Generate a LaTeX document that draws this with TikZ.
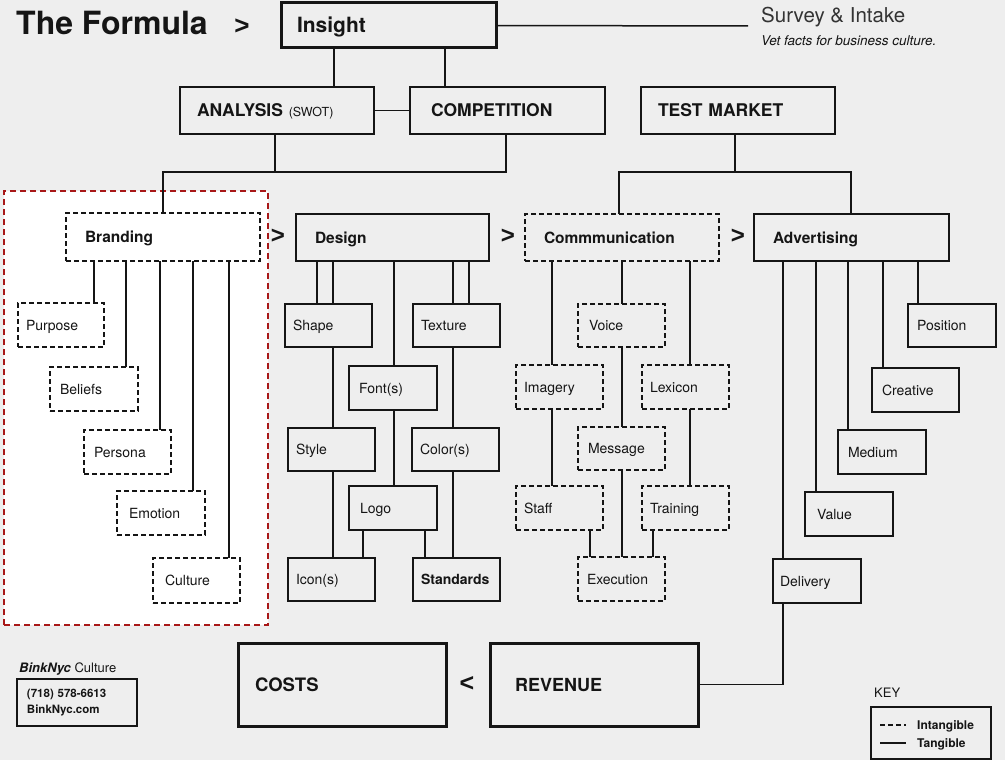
\documentclass[tikz,border=0pt]{standalone}
\usepackage{fontspec}
\setmainfont{TeX Gyre Heros}
\newfontfamily\chevfont{Liberation Sans}
\definecolor{bgc}{HTML}{EEEEEE}
\definecolor{ink}{HTML}{151515}
\definecolor{zone}{HTML}{A81818}
\definecolor{grayink}{HTML}{333333}
\newcommand\mkbox[8]{%
  \pgfmathsetmacro\bxw{#5-#3}%
  \pgfmathsetmacro\bxh{#6-#4}%
  \pgfmathsetmacro\bxt{#5-#3-2*#7}%
  \node[#1, anchor=north west, outer sep=0pt, minimum width=\bxw pt, minimum height=\bxh pt,
        text width=\bxt pt, inner xsep=#7pt, inner ysep=0pt, align=left] (#2) at (#3,#4) {#8};}
\tikzset{
  solidbox/.style={draw=ink, line width=1.4pt, text=ink, font=\fontsize{14}{16}\selectfont, text height=10pt, text depth=0pt},
  dashbox/.style={solidbox, dash pattern=on 5pt off 3pt},
  thickbox/.style={draw=ink, line width=3pt, text=ink},
  headfont/.style={font=\bfseries\fontsize{17.5}{20}\selectfont, text height=12.6pt, text depth=0pt},
  midfont/.style={font=\bfseries\fontsize{15.5}{18}\selectfont, text height=11.2pt, text depth=0pt},
  conn/.style={draw=ink, line width=1.5pt},
  arrowtxt/.style={font=\chevfont\bfseries\fontsize{24}{26}\selectfont, text=ink, inner sep=0pt},
}
\begin{document}
\begin{tikzpicture}[x=1pt, y=-1pt]
\useasboundingbox (0,0) rectangle (1005,760);
\fill[bgc] (0,0) rectangle (1005,760);

% title row
\node[anchor=base west, inner sep=0pt, text=ink, font=\bfseries\fontsize{32}{34}\selectfont] (title) at (16,35) {The Formula};
\node[arrowtxt, font=\chevfont\bfseries\fontsize{26}{28}\selectfont] (gt0) at (242,27) {>};
\mkbox{thickbox, font=\bfseries\fontsize{21}{24}\selectfont, text height=15pt, text depth=0pt}{insight}{281}{3}{496}{48}{16}{Insight}
\coordinate (surveyend) at (748,26);
\draw[conn] (insight.east) -- (surveyend);
\node[anchor=base west, inner sep=0pt, text=grayink, font=\fontsize{20.5}{23}\selectfont] (survey) at (761,23) {Survey \& Intake};
\node[anchor=base west, inner sep=0pt, text=ink, font=\itshape\fontsize{13.5}{15}\selectfont] (vet) at (761,46) {Vet facts for business culture.};

% second row
\mkbox{solidbox, headfont}{analysis}{180}{87}{374}{134}{17}{ANALYSIS {\fontsize{12.5}{14}\selectfont\mdseries (SWOT)}}
\mkbox{solidbox, headfont}{competition}{410}{87}{605}{134}{21}{COMPETITION}
\mkbox{solidbox, headfont}{testmarket}{641}{87}{835}{134}{17}{TEST MARKET}

\draw[conn] (334,0 |- insight.south) -- (334,0 |- analysis.north);
\draw[conn] (445,0 |- insight.south) -- (445,0 |- competition.north);
\draw[conn] (analysis.east) -- (competition.west);

% branding zone
\node[draw=zone, fill=white, line width=1.5pt, dash pattern=on 6pt off 4pt, anchor=north west,
      minimum width=264pt, minimum height=434pt, inner sep=0pt, outer sep=0pt] (brandzone) at (4,191) {};

% column heads
\mkbox{dashbox, midfont, fill=white}{branding}{66}{213}{260}{261}{19}{Branding}
\mkbox{solidbox, midfont}{design}{296}{214}{489}{261}{19}{Design}
\mkbox{dashbox, midfont}{comm}{525}{214}{719}{261}{19}{Commmunication}
\mkbox{solidbox, midfont}{adv}{754}{214}{949}{261}{19}{Advertising}
\node[arrowtxt] (gt1) at (278,236) {>};
\node[arrowtxt] (gt2) at (508,236) {>};
\node[arrowtxt] (gt3) at (738,236) {>};

\coordinate (jleft) at (163,172);
\coordinate (jright) at (851,172);
\draw[conn] (275,0 |- analysis.south) |- (jleft) -- (163,0 |- branding.north);
\draw[conn] (506,0 |- competition.south) |- (275,172);
\draw[conn] (735,0 |- testmarket.south) -- (735,172);
\draw[conn] (619,0 |- comm.north) |- (jright) -- (851,0 |- adv.north);

% branding children
\mkbox{dashbox}{purpose}{18}{303}{104}{347}{8}{Purpose}
\mkbox{dashbox}{beliefs}{50}{367}{138}{411}{10}{Beliefs}
\mkbox{dashbox}{persona}{84}{430}{171}{474}{10}{Persona}
\mkbox{dashbox}{emotion}{117}{491}{205}{535}{12}{Emotion}
\mkbox{dashbox}{culture}{153}{558}{240}{603}{12}{Culture}
\draw[conn] (94,0 |- branding.south) -- (94,0 |- purpose.north);
\draw[conn] (126,0 |- branding.south) -- (126,0 |- beliefs.north);
\draw[conn] (160,0 |- branding.south) -- (160,0 |- persona.north);
\draw[conn] (193,0 |- branding.south) -- (193,0 |- emotion.north);
\draw[conn] (229,0 |- branding.south) -- (229,0 |- culture.north);

% design children
\mkbox{solidbox}{shape}{285}{304}{372}{347}{8}{Shape}
\mkbox{solidbox}{texture}{413}{304}{500}{347}{8}{Texture}
\mkbox{solidbox}{fonts}{349}{366}{437}{410}{10}{Font(s)}
\mkbox{solidbox}{style}{288}{428}{375}{471}{8}{Style}
\mkbox{solidbox}{colors}{412}{428}{499}{471}{8}{Color(s)}
\mkbox{solidbox}{logo}{349}{486}{437}{530}{11}{Logo}
\mkbox{solidbox}{icons}{288}{558}{375}{601}{8}{Icon(s)}
\mkbox{solidbox, font=\bfseries\fontsize{14}{16}\selectfont}{standards}{413}{558}{500}{601}{8}{Standards}
\draw[conn] (317,0 |- design.south) -- (317,0 |- shape.north);
\draw[conn] (333,0 |- design.south) -- (333,0 |- shape.north);
\draw[conn] (453,0 |- design.south) -- (453,0 |- texture.north);
\draw[conn] (469,0 |- design.south) -- (469,0 |- texture.north);
\draw[conn] (394,0 |- design.south) -- (394,0 |- fonts.north);
\draw[conn] (333,0 |- shape.south) -- (333,0 |- style.north);
\draw[conn] (333,0 |- style.south) -- (333,0 |- icons.north);
\draw[conn] (394,0 |- fonts.south) -- (394,0 |- logo.north);
\draw[conn] (453,0 |- texture.south) -- (453,0 |- colors.north);
\draw[conn] (453,0 |- colors.south) -- (453,0 |- standards.north);
\draw[conn] (363,0 |- logo.south) -- (363,0 |- icons.north);
\draw[conn] (425,0 |- logo.south) -- (425,0 |- standards.north);

% communication children
\mkbox{dashbox}{voice}{578}{304}{665}{347}{11}{Voice}
\mkbox{dashbox}{imagery}{516}{365}{603}{409}{8}{Imagery}
\mkbox{dashbox}{lexicon}{642}{365}{729}{409}{8}{Lexicon}
\mkbox{dashbox}{message}{578}{427}{665}{470}{10}{Message}
\mkbox{dashbox}{staff}{516}{486}{603}{530}{8}{Staff}
\mkbox{dashbox}{training}{642}{486}{729}{530}{8}{Training}
\mkbox{dashbox}{execution}{578}{557}{665}{601}{9}{Execution}
\draw[conn] (552,0 |- comm.south) -- (552,0 |- imagery.north);
\draw[conn] (622,0 |- comm.south) -- (622,0 |- voice.north);
\draw[conn] (690,0 |- comm.south) -- (690,0 |- lexicon.north);
\draw[conn] (622,0 |- voice.south) -- (622,0 |- message.north);
\draw[conn] (622,0 |- message.south) -- (622,0 |- execution.north);
\draw[conn] (552,0 |- imagery.south) -- (552,0 |- staff.north);
\draw[conn] (690,0 |- lexicon.south) -- (690,0 |- training.north);
\draw[conn] (590,0 |- staff.south) -- (590,0 |- execution.north);
\draw[conn] (653,0 |- training.south) -- (653,0 |- execution.north);

% advertising children
\mkbox{solidbox}{position}{908}{304}{996}{347}{9}{Position}
\mkbox{solidbox}{creative}{872}{368}{959}{412}{10}{Creative}
\mkbox{solidbox}{medium}{838}{430}{926}{474}{10}{Medium}
\mkbox{solidbox}{value}{805}{492}{893}{536}{12}{Value}
\mkbox{solidbox}{delivery}{773}{559}{861}{603}{7}{Delivery}
\draw[conn] (918,0 |- adv.south) -- (918,0 |- position.north);
\draw[conn] (883,0 |- adv.south) -- (883,0 |- creative.north);
\draw[conn] (848,0 |- adv.south) -- (848,0 |- medium.north);
\draw[conn] (816,0 |- adv.south) -- (816,0 |- value.north);
\draw[conn] (783,0 |- adv.south) -- (783,0 |- delivery.north);

% bottom row
\mkbox{thickbox, font=\bfseries\fontsize{18.5}{21}\selectfont, text height=13.3pt, text depth=0pt}{costs}{238}{643}{446}{726}{17}{COSTS}
\mkbox{thickbox, font=\bfseries\fontsize{18}{21}\selectfont, text height=13pt, text depth=0pt}{revenue}{490}{643}{698}{726}{25}{REVENUE}
\node[arrowtxt, font=\chevfont\bfseries\fontsize{25}{27}\selectfont] (lt) at (467,684) {<};
\draw[conn] (783,0 |- delivery.south) |- (revenue.east);

% contact
\node[anchor=base west, inner sep=0pt, text=ink, font=\fontsize{13}{15}\selectfont] (bink) at (19,672) {{\bfseries\itshape BinkNyc} Culture};
\mkbox{draw=ink, text=ink, line width=1.2pt, font=\bfseries\fontsize{11.5}{16}\selectfont}{contact}{17}{679}{137}{726}{10}{(718) 578-6613\\BinkNyc.com}

% key
\node[anchor=base west, inner sep=0pt, text=ink, font=\fontsize{13}{15}\selectfont] (keytitle) at (874,697) {KEY};
\node[draw=ink, line width=1.4pt, anchor=north west, minimum width=120pt, minimum height=52pt, inner sep=0pt, outer sep=0pt] (keybox) at (871,707) {};
\coordinate (kd1) at (880,725); \coordinate (kd2) at (906,725);
\coordinate (ks1) at (880,743); \coordinate (ks2) at (906,743);
\draw[conn, line width=1.2pt, dash pattern=on 5pt off 3pt] (kd1) -- (kd2);
\draw[conn, line width=1.2pt] (ks1) -- (ks2);
\node[anchor=base west, inner sep=0pt, text=ink, font=\bfseries\fontsize{12}{14}\selectfont] (kint) at (917,729) {Intangible};
\node[anchor=base west, inner sep=0pt, text=ink, font=\bfseries\fontsize{12}{14}\selectfont] (ktan) at (917,747) {Tangible};
\end{tikzpicture}
\end{document}
